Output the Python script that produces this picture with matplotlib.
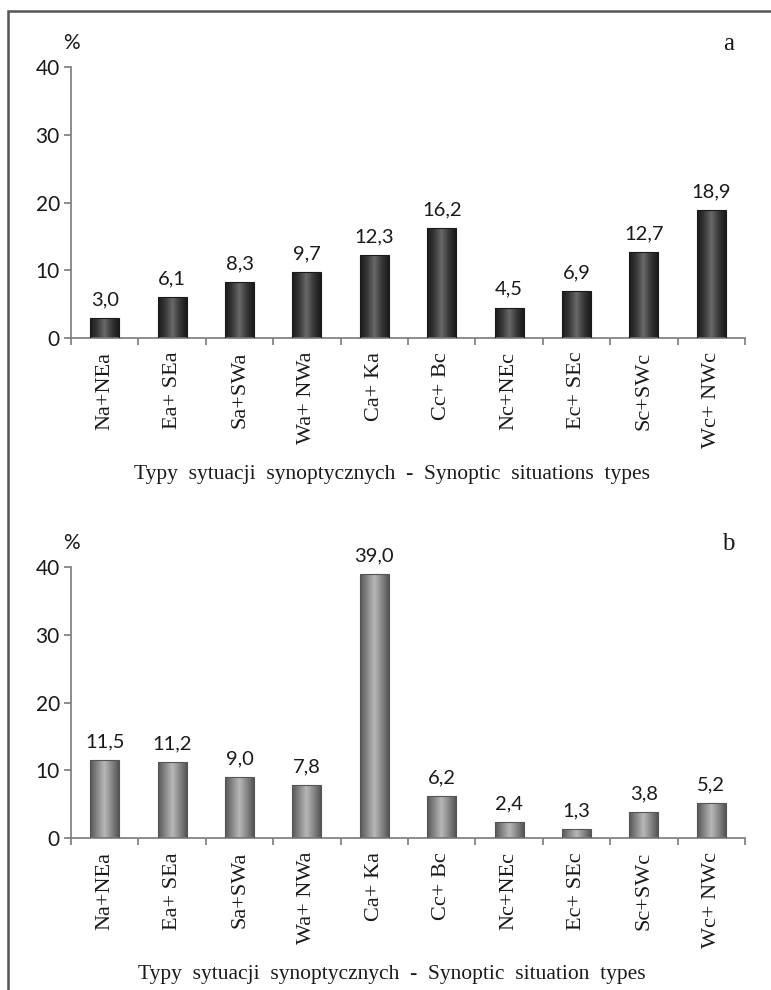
import numpy as np
import matplotlib
matplotlib.use("Agg")
import matplotlib.pyplot as plt
from matplotlib.patches import Rectangle
from matplotlib.colors import LinearSegmentedColormap

# dane
categories = ["Na+NEa", "Ea+ SEa", "Sa+SWa", "Wa+ NWa", "Ca+ Ka",
              "Cc+ Bc", "Nc+NEc", "Ec+ SEc", "Sc+SWc", "Wc+ NWc"]
values_a = [3.0, 6.1, 8.3, 9.7, 12.3, 16.2, 4.5, 6.9, 12.7, 18.9]
values_b = [11.5, 11.2, 9.0, 7.8, 39.0, 6.2, 2.4, 1.3, 3.8, 5.2]
yticks = [0, 10, 20, 30, 40]
xlabel_a = "Typy  sytuacji  synoptycznych  -  Synoptic  situations  types"
xlabel_b = "Typy  sytuacji  synoptycznych  -  Synoptic  situation  types"

NUM_FONT = "Lato"
TXT_FONT = "Liberation Serif"
AXIS_COL = "#7a7a7a"
TXT_COL = "#1a1a1a"


def shade_bars(ax, bars, dark, mid, light):
    # cylindryczne cieniowanie słupków
    cmap = LinearSegmentedColormap.from_list("cyl", [dark, mid, light, mid, dark])
    grad = np.linspace(0, 1, 64).reshape(1, -1)
    for b in bars:
        x0, y0 = b.get_x(), b.get_y()
        w, h = b.get_width(), b.get_height()
        im = ax.imshow(grad, cmap=cmap, aspect="auto", extent=[x0, x0 + w, y0, y0 + h],
                       zorder=2, interpolation="bicubic")
        im.set_clip_path(b)
        b.set_facecolor("none")
        b.set_zorder(3)


def panel(ax, values, xlabel, letter, dark, mid, light):
    x = np.arange(len(categories))
    bars = ax.bar(x, values, width=0.43, color=mid, edgecolor=dark, linewidth=0.8)
    shade_bars(ax, bars, dark, mid, light)

    for xi, v in zip(x, values):
        ax.annotate(f"{v:.1f}".replace(".", ","), (xi, v), xytext=(0, 7),
                    textcoords="offset points", ha="center", va="bottom",
                    fontsize=14.5, family=NUM_FONT, color=TXT_COL)

    ax.set_xlim(-0.5, len(categories) - 0.5)
    ax.set_ylim(0, 40)
    ax.set_yticks(yticks)
    ax.set_yticklabels([str(t) for t in yticks], family=NUM_FONT, fontsize=15, color=TXT_COL)

    ax.set_xticks(np.arange(len(categories) + 1) - 0.5)
    ax.set_xticklabels([])
    ax.set_xticks(x, minor=True)
    ax.set_xticklabels(categories, minor=True, rotation=90, family=TXT_FONT,
                       fontsize=16, color=TXT_COL, va="top")
    ax.tick_params(axis="x", which="minor", length=0, pad=10)
    ax.tick_params(axis="x", which="major", length=5, width=1.2, color=AXIS_COL)
    ax.tick_params(axis="y", length=5, width=1.2, color=AXIS_COL, pad=3)

    for s in ["top", "right"]:
        ax.spines[s].set_visible(False)
    for s in ["left", "bottom"]:
        ax.spines[s].set_color(AXIS_COL)
        ax.spines[s].set_linewidth(1.2)

    ax.text(0.476, -0.505, xlabel, transform=ax.transAxes, ha="center", va="center",
            family=TXT_FONT, fontsize=15.5, color=TXT_COL)
    ax.text(0.0, 1.09, "%", transform=ax.transAxes, ha="center", va="center",
            family=NUM_FONT, fontsize=15, color=TXT_COL)
    ax.text(0.975, 1.085, letter, transform=ax.transAxes, ha="center", va="center",
            family=TXT_FONT, fontsize=18, color=TXT_COL)


fig = plt.figure(figsize=(7.71, 9.90), dpi=100)
ax_a = fig.add_axes([0.0921, 0.6586, 0.8742, 0.2737])
ax_b = fig.add_axes([0.0921, 0.1535, 0.8742, 0.2737])

panel(ax_a, values_a, xlabel_a, "a", "#1a1a1a", "#383838", "#6a6a6a")
panel(ax_b, values_b, xlabel_b, "b", "#555555", "#888888", "#b8b8b8")

# ramka
fig.patches.append(Rectangle((8 / 771, -0.05), 1.2, 1 - 11 / 990 + 0.05,
                             transform=fig.transFigure, fill=False,
                             edgecolor="#555555", linewidth=1.8))

fig.savefig("out.png", dpi=100)
